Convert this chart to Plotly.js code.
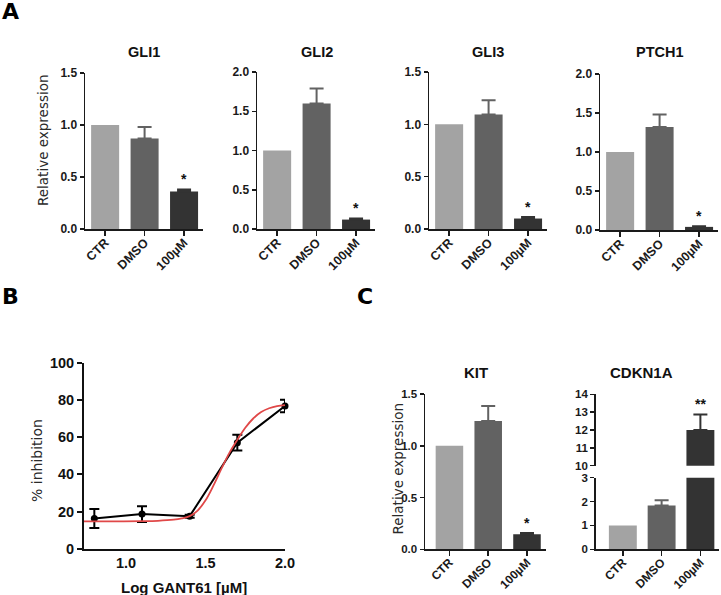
<!DOCTYPE html>
<html><head><meta charset="utf-8">
<script src="https://cdn.plot.ly/plotly-3.0.1.min.js"></script>
<style>html,body{margin:0;padding:0;background:#fff}#chart{width:721px;height:595px}</style>
</head><body><div id="chart"></div>
<script>
// ---------- data ----------
const categories = ['CTR', 'DMSO', '100µM'];
const gli1 = [1.00, 0.87, 0.36];
const gli1Err = [0, 0.11, 0.02];
const gli2 = [1.00, 1.60, 0.12];
const gli2Err = [0, 0.19, 0.015];
const gli3 = [1.00, 1.095, 0.10];
const gli3Err = [0, 0.135, 0.015];
const ptch1 = [1.00, 1.32, 0.04];
const ptch1Err = [0, 0.16, 0.008];
const kit = [1.00, 1.24, 0.145];
const kitErr = [0, 0.145, 0.012];
const cdkn1a = [1.00, 1.83, 12.0];
const cdkn1aErr = [0, 0.23, 0.87];
const sigA = ['', '', '*'];
const sigC2 = ['', '', '**'];
const geneTitles = ['GLI1', 'GLI2', 'GLI3', 'PTCH1', 'KIT', 'CDKN1A'];
const logDose = [0.8, 1.1, 1.4, 1.7, 2.0];
const inhibition = [16.2, 18.6, 17.5, 57.0, 76.7];
const inhibitionErr = [5.1, 4.2, 0.8, 4.2, 3.4];
const fitX = [0.735, 0.9, 1.1, 1.2, 1.3, 1.35, 1.4, 1.45, 1.5, 1.55, 1.6, 1.65, 1.7, 1.75, 1.8, 1.85, 1.9, 1.95, 2.0];
const fitY = [14.7, 14.7, 14.8, 15.0, 15.6, 16.3, 17.5, 20.5, 26.0, 34.0, 43.0, 51.5, 58.5, 65.0, 70.0, 73.5, 75.5, 76.7, 77.2];
const bTicks = [1.0, 1.5, 2.0];

// ---------- style ----------
const W = 721, H = 595;
const barColors = ['#a3a3a3', '#626262', '#333333'];
const boldFont = 'Liberation Sans, Arial, sans-serif';
const px = x => x / W;
const py = y => 1 - y / H;
const dX = (a, b) => [px(a), px(b)];
const dY = (t, b) => [py(b), py(t)];

function barTraces(vals, errs, xa, ya, bw) {
  return categories.map((c, i) => ({
    type: 'bar', x: [c], y: [vals[i]], width: [bw],
    marker: {color: barColors[i], line: {width: 0}},
    error_y: {type: 'data', symmetric: false, array: [errs[i]], arrayminus: [0],
              visible: errs[i] > 0, color: barColors[i], thickness: 2, width: 7},
    xaxis: xa, yaxis: ya, showlegend: false, hoverinfo: 'skip'
  }));
}
function catAxis(dom, range, showLabels, size) {
  return {domain: dom, type: 'category', categoryorder: 'array', categoryarray: categories,
    range: range, showline: true, linewidth: 1.5, linecolor: '#1a1a1a', ticks: 'outside',
    ticklen: 5, tickwidth: 1.5, tickcolor: '#1a1a1a', tickangle: -45, showgrid: false,
    zeroline: false, showticklabels: showLabels, ticklabelstandoff: -5,
    tickfont: {family: boldFont, size: size || 12.5, weight: 700, color: '#1a1a1a'}, fixedrange: true};
}
function valAxis(dom, range, dtick, fmt, size) {
  return {domain: dom, range: range, dtick: dtick, tick0: range[0], tickformat: fmt,
    showline: true, linewidth: 1.5, linecolor: '#1a1a1a', ticks: 'outside', ticklen: 4,
    tickwidth: 1.5, tickcolor: '#1a1a1a', showgrid: false, zeroline: false,
    tickfont: {family: boldFont, size: size || 12, weight: 700, color: '#1a1a1a'}, fixedrange: true};
}

const traces = [];
traces.push(...barTraces(gli1, gli1Err, 'x', 'y', 0.71));
traces.push(...barTraces(gli2, gli2Err, 'x2', 'y2', 0.71));
traces.push(...barTraces(gli3, gli3Err, 'x3', 'y3', 0.71));
traces.push(...barTraces(ptch1, ptch1Err, 'x4', 'y4', 0.71));
traces.push(...barTraces(kit, kitErr, 'x6', 'y6', 0.71));
traces.push(...barTraces(cdkn1a, cdkn1aErr, 'x7', 'y7', 0.72));
traces.push(...barTraces(cdkn1a, cdkn1aErr, 'x8', 'y8', 0.72));

// Panel B
traces.push({type: 'scatter', mode: 'lines+markers', x: logDose, y: inhibition,
  line: {color: '#000', width: 2}, marker: {color: '#000', size: 7, symbol: 'circle'},
  error_y: {type: 'data', array: inhibitionErr, color: '#000', thickness: 2, width: 5},
  xaxis: 'x5', yaxis: 'y5', showlegend: false, cliponaxis: false, hoverinfo: 'skip'});
traces.push({type: 'scatter', mode: 'lines', x: fitX, y: fitY, line: {color: '#e04848', width: 1.8, shape: 'spline'},
  xaxis: 'x5', yaxis: 'y5', showlegend: false, hoverinfo: 'skip'});

const layout = {
  width: W, height: H, margin: {l: 0, r: 0, t: 0, b: 0},
  paper_bgcolor: '#fff', plot_bgcolor: 'rgba(0,0,0,0)', barmode: 'overlay', showlegend: false,
  xaxis: catAxis(dX(85, 203), [-0.51, 2.48], true), yaxis: valAxis(dY(73, 229), [0, 1.5], 0.5, '.1f'),
  xaxis2: catAxis(dX(257, 375), [-0.51, 2.48], true), yaxis2: valAxis(dY(72, 229), [0, 2.0], 0.5, '.1f'),
  xaxis3: catAxis(dX(429, 547), [-0.51, 2.48], true), yaxis3: valAxis(dY(72, 229), [0, 1.5], 0.5, '.1f'),
  xaxis4: catAxis(dX(600, 718), [-0.51, 2.48], true), yaxis4: valAxis(dY(74, 230), [0, 2.0], 0.5, '.1f'),
  xaxis6: catAxis(dX(425, 546), [-0.63, 2.49], true, 12), yaxis6: valAxis(dY(394, 549.3), [0, 1.5], 0.5, '.1f', 11.5),
  xaxis7: catAxis(dX(595.7, 719), [-0.7, 2.48], true, 12), yaxis7: valAxis(dY(477.7, 549.3), [0, 3], 1, 'd', 11.5),
  xaxis8: Object.assign(catAxis(dX(595.7, 719), [-0.7, 2.48], false), {showline: false, ticks: '', anchor: 'y8'}),
  yaxis8: valAxis(dY(394.3, 465.7), [10, 14], 1, 'd', 11.5),
  xaxis5: {domain: dX(84, 285), range: [0.735, 2.0], tickvals: bTicks, tickformat: '.1f',
    showline: true, linewidth: 2, linecolor: '#111', ticks: '', showgrid: false, zeroline: false,
    tickfont: {family: boldFont, size: 14.5, weight: 700, color: '#111'}, fixedrange: true},
  yaxis5: {domain: dY(362.7, 548.7), range: [0, 100], dtick: 20, showline: true, linewidth: 2,
    linecolor: '#111', ticks: 'outside', ticklen: 5, tickwidth: 2, tickcolor: '#111', showgrid: false,
    zeroline: false, tickfont: {family: boldFont, size: 14.5, weight: 700, color: '#111'}, fixedrange: true},
  annotations: []
};
// anchor axes
[['xaxis','y'],['xaxis2','y2'],['xaxis3','y3'],['xaxis4','y4'],['xaxis5','y5'],['xaxis6','y6'],['xaxis7','y7']].forEach(([a, y]) => layout[a].anchor = y);
[['yaxis','x'],['yaxis2','x2'],['yaxis3','x3'],['yaxis4','x4'],['yaxis5','x5'],['yaxis6','x6'],['yaxis7','x7'],['yaxis8','x8']].forEach(([a, x]) => layout[a].anchor = x);

const ann = layout.annotations;
function txt(x, y, text, font, extra) {
  ann.push(Object.assign({xref: 'paper', yref: 'paper', x: px(x), y: py(y), text: text, showarrow: false,
    font: font, xanchor: 'center', yanchor: 'middle'}, extra || {}));
}
const letterFont = {family: 'DejaVu Sans, sans-serif', size: 22, weight: 700, color: '#000'};
txt(0, -3, 'A', letterFont, {xanchor: 'left', yanchor: 'top'});
txt(0, 282, 'B', letterFont, {xanchor: 'left', yanchor: 'top'});
txt(355, 282, 'C', letterFont, {xanchor: 'left', yanchor: 'top'});

const titleFont = {family: boldFont, size: 14.5, weight: 700, color: '#111'};
const titleFontC = {family: boldFont, size: 15, weight: 700, color: '#111'};
txt(144, 51.7, geneTitles[0], titleFont);
txt(316.5, 51.7, geneTitles[1], titleFont);
txt(488, 51.7, geneTitles[2], titleFont);
txt(659.5, 51.7, geneTitles[3], titleFont);
txt(476, 372.7, geneTitles[4], titleFontC);
txt(641.7, 372.7, geneTitles[5], titleFontC);

const yTitleFont = {family: 'DejaVu Sans, sans-serif', size: 13.5, color: '#2a2a2a'};
txt(43, 140, 'Relative expression', yTitleFont, {textangle: -90});
txt(397.7, 468.8, 'Relative expression', yTitleFont, {textangle: -90});
txt(37, 461, '% inhibition', {family: 'DejaVu Sans, sans-serif', size: 14, color: '#2a2a2a'}, {textangle: -90});
txt(184, 587, 'Log GANT61 [µM]', {family: boldFont, size: 15, weight: 700, color: '#111'});

// significance stars
const starFont = {family: boldFont, size: 14, weight: 700, color: '#111'};
function stars(vals, errs, marks, xa, ya) {
  marks.forEach((m, i) => { if (m) ann.push({xref: xa, yref: ya, x: categories[i], y: vals[i] + errs[i],
    text: m, showarrow: false, font: starFont, yanchor: 'bottom', yshift: 0}); });
}
stars(gli1, gli1Err, sigA, 'x', 'y');
stars(gli2, gli2Err, sigA, 'x2', 'y2');
stars(gli3, gli3Err, sigA, 'x3', 'y3');
stars(ptch1, ptch1Err, sigA, 'x4', 'y4');
stars(kit, kitErr, sigA, 'x6', 'y6');
stars(cdkn1a, cdkn1aErr, sigC2, 'x8', 'y8');

Plotly.newPlot('chart', traces, layout, {staticPlot: true, displayModeBar: false});
</script>
</body></html>
